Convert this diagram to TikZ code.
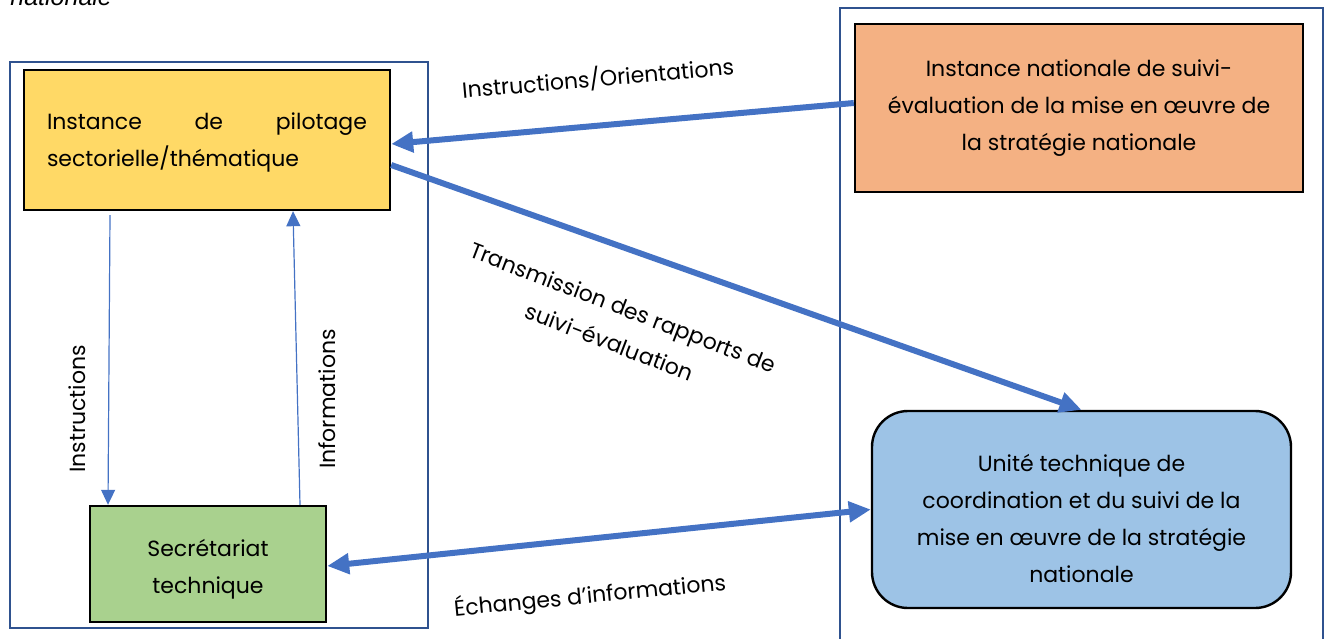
\documentclass[tikz,border=0pt]{standalone}
\usepackage{fontspec}
\setmainfont{Poppins}
\newfontfamily\notefont{Liberation Sans}
\usetikzlibrary{arrows.meta}

\definecolor{arrowc}{HTML}{4472C4}
\definecolor{framec}{HTML}{2F528F}
\definecolor{pilotc}{HTML}{FFD966}
\definecolor{natc}{HTML}{F4B183}
\definecolor{secc}{HTML}{A9D18E}
\definecolor{unitc}{HTML}{9DC3E6}

\begin{document}
\begin{tikzpicture}[x=0.5pt, y=-0.5pt,
    every node/.style={font=\fontsize{11}{18.5}\selectfont},
    zone/.style={draw=framec, line width=1pt},
    box/.style={rectangle, draw=black, line width=1.2pt, align=center, inner sep=0pt},
    bigarrow/.style={-{Triangle[length=11pt, width=10pt]}, draw=arrowc, line width=3pt},
    duoarrow/.style={{Triangle[length=11pt, width=10pt]}-{Triangle[length=11pt, width=10pt]}, draw=arrowc, line width=3pt},
    thinarrow/.style={-{Triangle[length=7.5pt, width=7pt]}, draw=arrowc, line width=0.6pt},
    lbl/.style={inner sep=0pt}]

  \useasboundingbox (0,0) rectangle (1329,638);

  % cadres
  \draw[zone] (10,62) rectangle (428,628);
  \draw[zone] (840,8) rectangle (1323,660);

  \node[anchor=base west, inner sep=0pt, font=\notefont\itshape\fontsize{12.5}{15}\selectfont] (note) at (10,5) {nationale};

  \node[box, fill=pilotc, minimum width=183pt, minimum height=70pt, text width=160pt, align=left] (pil) at (207,140)
    {\rule{0pt}{11pt}Instance\hfill de\hfill pilotage\\sectorielle/thématique};
  \node[box, fill=secc, minimum width=118pt, minimum height=58pt] (sec) at (208,564) {\rule{0pt}{14pt}Secrétariat\\technique};
  \node[box, fill=natc, minimum width=224pt, minimum height=84pt] (nat) at (1079,108)
    {Instance nationale de suivi-\\évaluation de la mise en œuvre de\\la stratégie nationale};
  \node[box, fill=unitc, rounded corners=18pt, minimum width=209.5pt, minimum height=98.5pt] (unit) at (1081.5,509.5)
    {\rule{0pt}{18pt}Unité technique de\\coordination et du suivi de la\\mise en œuvre de la stratégie\\nationale};

  % flux
  \draw[bigarrow] ([yshift=2.5pt]nat.west) -- ([yshift=-2pt]pil.east);
  \draw[bigarrow] ([yshift=-12.5pt]pil.east) -- (unit.north);
  \draw[duoarrow] ([yshift=-1pt]sec.east) -- (unit.west);
  \draw[thinarrow] ([xshift=-48.5pt, yshift=-2pt]pil.south) -- ([xshift=-50pt]sec.north);
  \draw[thinarrow] ([xshift=46pt]sec.north) -- ([xshift=43pt]pil.south);

  \node[lbl, rotate=5] (lorient) at (598,78) {Instructions/Orientations};
  \node[lbl, rotate=-21, align=center] (ltrans) at (616.5,324.5) {Transmission des rapports de\\suivi-évaluation};
  \node[lbl, rotate=5.5] (lechange) at (590,596) {Échanges d’informations};
  \node[lbl, rotate=90] (linstr) at (77,409) {Instructions};
  \node[lbl, rotate=90] (linfo) at (327,399) {Informations};
\end{tikzpicture}
\end{document}
